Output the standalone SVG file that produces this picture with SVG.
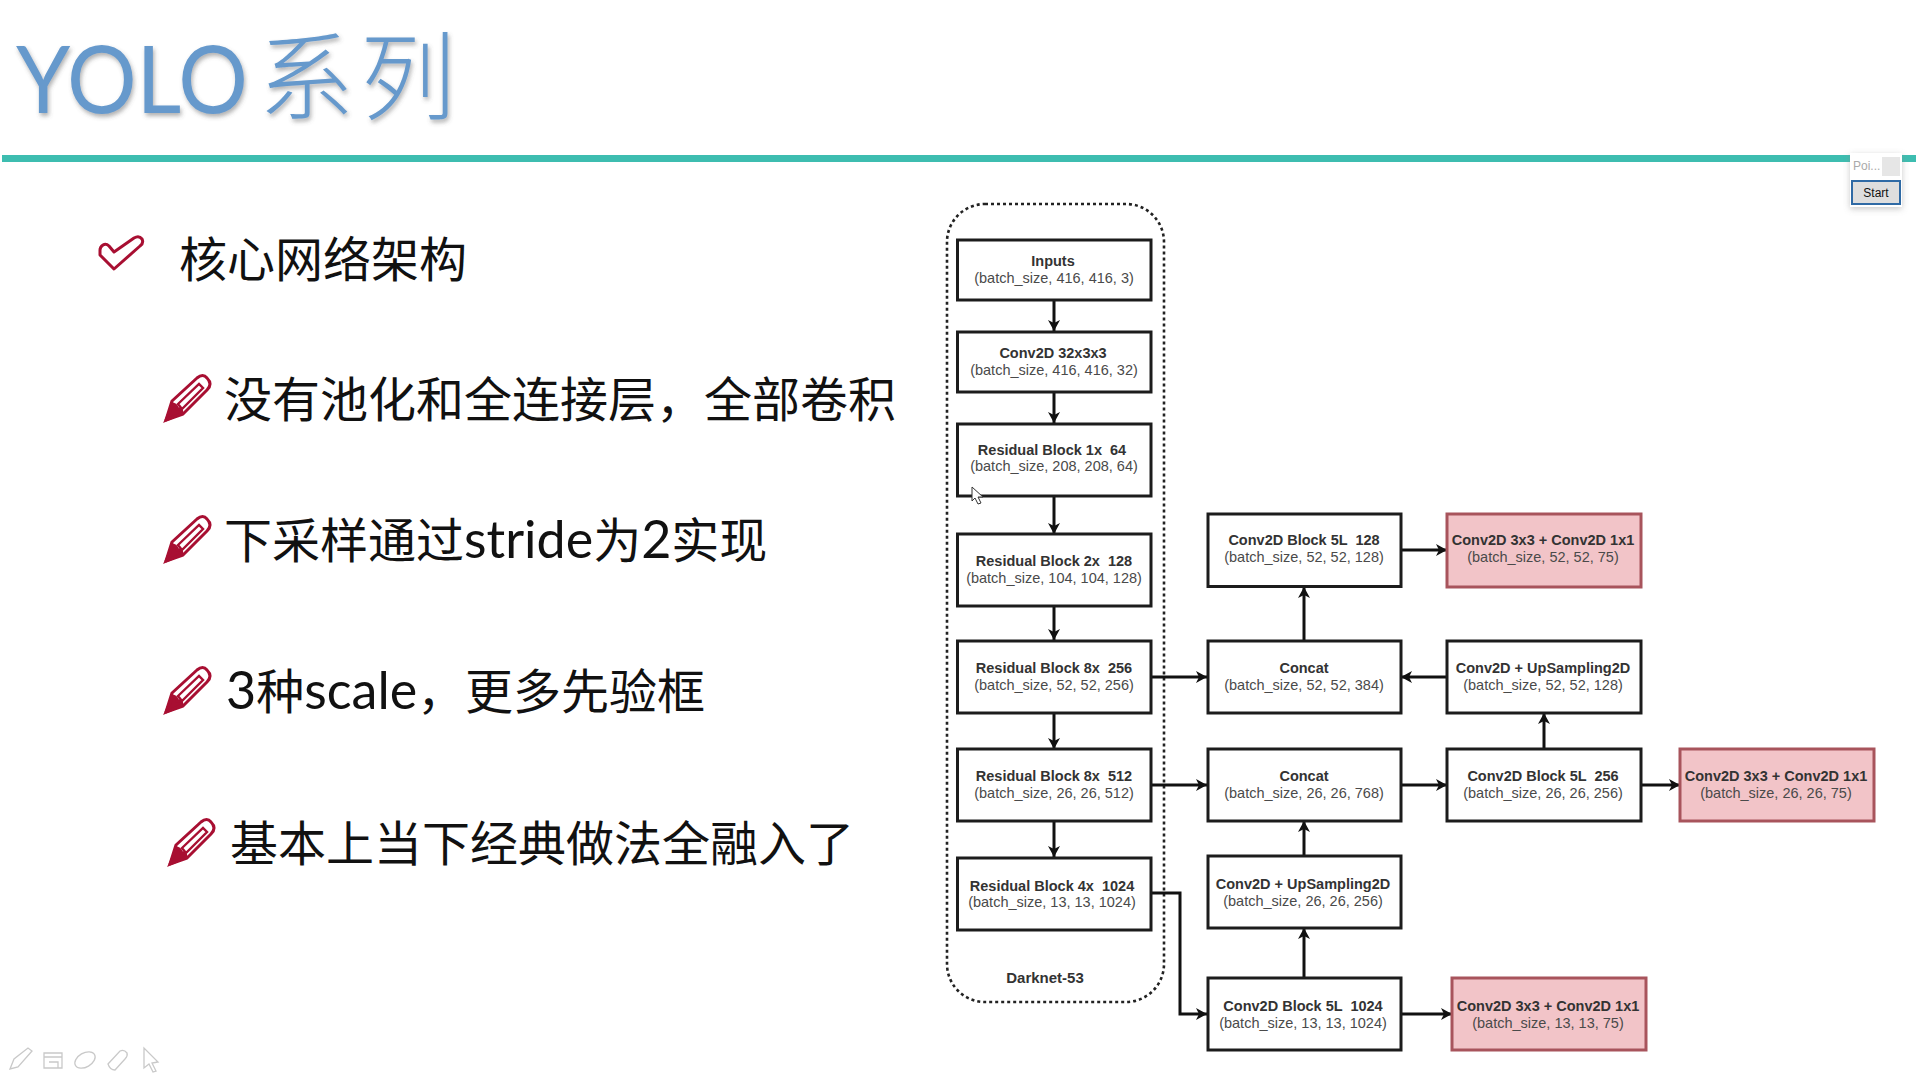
<svg xmlns="http://www.w3.org/2000/svg" xmlns:xlink="http://www.w3.org/1999/xlink" width="1916" height="1080" viewBox="0 0 1916 1080">
<style>
.t{font-family:"Lato","Noto Sans CJK SC",sans-serif;font-size:48px;fill:#111}
.w{font-size:52px}
.b{fill:#fff;stroke:#1c1c1c;stroke-width:3}
.p{fill:#f2c4c8;stroke:#a8545c;stroke-width:3}
.l{font-family:"Liberation Sans",Arial,sans-serif;font-size:14.5px;text-anchor:middle;fill:#333;font-weight:bold;white-space:pre}
.s{font-family:"Liberation Sans",Arial,sans-serif;font-size:14.5px;text-anchor:middle;fill:#4a4a4a}
.c{fill:none;stroke:#111;stroke-width:3;marker-end:url(#a)}
.g{fill:none;stroke:#c9c9c9;stroke-width:1.3}
</style>
<defs>
<marker id="a" markerUnits="userSpaceOnUse" markerWidth="12" markerHeight="14" refX="11" refY="7" orient="auto"><path d="M0 1L11 7L0 13L3 7Z" fill="#111"/></marker>
<filter id="sh" x="-10%" y="-10%" width="120%" height="130%"><feDropShadow dx="1.500" dy="3" stdDeviation="2" flood-color="#555" flood-opacity=".45"/></filter>
<filter id="ps" x="-30%" y="-30%" width="160%" height="160%"><feDropShadow dx="0" dy="2" stdDeviation="3" flood-color="#888" flood-opacity=".45"/></filter>
<g id="pen" fill="none" stroke="#a80f32" stroke-width="3">
<path d="M166 420L172 401L197 378Q203 373 207 378Q213 384 207 390L183 414Z" stroke-linejoin="round"/>
<path d="M166 420L173 404Q177 405 177 409Q182 408 182 413Z" fill="#a80f32"/>
<path d="M178 404L199 384L203 388L182 409Z" stroke-width="2.400"/>
</g>
</defs>
<rect width="1916" height="1080" fill="#fff"/>
<g id="title" filter="url(#sh)">
<text x="16" y="113" font-family="Lato,sans-serif" font-size="94" fill="#6699cc" textLength="232" lengthAdjust="spacingAndGlyphs">YOLO</text>
<text x="258" y="112" font-family="'Noto Sans CJK SC',sans-serif" font-size="96" font-weight="300" letter-spacing="6" fill="#6699cc">系列</text>
</g>
<rect id="rule" x="2" y="155" width="1914" height="7" fill="#3dbdb0"/>
<g id="bullets">
<path id="check" d="M100 250Q100 247 103 245Q106 243 109 246L114 252L134 238Q139 235 142 239Q144 243 140 246L114 269L100 255Z" fill="none" stroke="#a80f32" stroke-width="3" stroke-linejoin="round"/>
<text class="t" x="179" y="277">核心网络架构</text>
<use xlink:href="#pen" href="#pen"/>
<text class="t" x="224" y="417">没有池化和全连接层，全部卷积</text>
<use xlink:href="#pen" href="#pen" y="141"/>
<text class="t" x="224" y="558">下采样通过<tspan class="w">stride</tspan>为<tspan class="w">2</tspan>实现</text>
<use xlink:href="#pen" href="#pen" y="292"/>
<text class="t" x="226" y="709"><tspan class="w">3</tspan>种<tspan class="w">scale</tspan>，更多先验框</text>
<use xlink:href="#pen" href="#pen" x="4" y="444"/>
<text class="t" x="230" y="861">基本上当下经典做法全融入了</text>
</g>
<rect id="darknet-frame" x="947" y="204" width="217" height="798" rx="38" fill="none" stroke="#222" stroke-width="2.600" stroke-dasharray="3 3"/>
<text id="darknet-label" class="l" x="1045" y="983" style="font-size:15px">Darknet-53</text>
<g id="connectors">
<path class="c" d="M1054 300V331"/>
<path class="c" d="M1054 392V423"/>
<path class="c" d="M1054 496V534"/>
<path class="c" d="M1054 606V640"/>
<path class="c" d="M1054 714V749"/>
<path class="c" d="M1054 821V857"/>
<path class="c" d="M1151 677H1207"/>
<path class="c" d="M1151 785H1207"/>
<path class="c" d="M1151 893H1180V1014H1207"/>
<path class="c" d="M1304 978V928"/>
<path class="c" d="M1304 856V821"/>
<path class="c" d="M1304 640V587"/>
<path class="c" d="M1401 785H1447"/>
<path class="c" d="M1447 677H1401"/>
<path class="c" d="M1544 749V713"/>
<path class="c" d="M1401 550H1447"/>
<path class="c" d="M1641 785H1680"/>
<path class="c" d="M1401 1014H1452"/>
</g>
<g id="n-inputs"><rect class="b" x="957.500" y="240" width="193.500" height="60"/><text class="l" x="1053" y="266">Inputs</text><text class="s" x="1054" y="283">(batch_size, 416, 416, 3)</text></g>
<g id="n-conv32"><rect class="b" x="957.500" y="332" width="193.500" height="60"/><text class="l" x="1053" y="358">Conv2D 32x3x3</text><text class="s" x="1054" y="375">(batch_size, 416, 416, 32)</text></g>
<g id="n-res1"><rect class="b" x="957.500" y="424" width="193.500" height="72"/><text class="l" x="1052" y="455">Residual Block 1x  64</text><text class="s" x="1054" y="471">(batch_size, 208, 208, 64)</text></g>
<g id="n-res2"><rect class="b" x="957.500" y="534" width="193.500" height="72"/><text class="l" x="1054" y="566">Residual Block 2x  128</text><text class="s" x="1054" y="583">(batch_size, 104, 104, 128)</text></g>
<g id="n-res8a"><rect class="b" x="957.500" y="641" width="193.500" height="72"/><text class="l" x="1054" y="673">Residual Block 8x  256</text><text class="s" x="1054" y="690">(batch_size, 52, 52, 256)</text></g>
<g id="n-res8b"><rect class="b" x="957.500" y="749" width="193.500" height="72"/><text class="l" x="1054" y="781">Residual Block 8x  512</text><text class="s" x="1054" y="798">(batch_size, 26, 26, 512)</text></g>
<g id="n-res4"><rect class="b" x="957.500" y="858" width="193.500" height="72"/><text class="l" x="1052" y="891">Residual Block 4x  1024</text><text class="s" x="1052" y="907">(batch_size, 13, 13, 1024)</text></g>
<g id="n-conv128"><rect class="b" x="1208" y="514" width="193" height="72.500"/><text class="l" x="1304" y="545">Conv2D Block 5L  128</text><text class="s" x="1304" y="562">(batch_size, 52, 52, 128)</text></g>
<g id="n-concat384"><rect class="b" x="1208" y="641" width="193" height="72"/><text class="l" x="1304" y="673">Concat</text><text class="s" x="1304" y="690">(batch_size, 52, 52, 384)</text></g>
<g id="n-concat768"><rect class="b" x="1208" y="749" width="193" height="72"/><text class="l" x="1304" y="781">Concat</text><text class="s" x="1304" y="798">(batch_size, 26, 26, 768)</text></g>
<g id="n-up256"><rect class="b" x="1208" y="856" width="193" height="72"/><text class="l" x="1303" y="889">Conv2D + UpSampling2D</text><text class="s" x="1303" y="906">(batch_size, 26, 26, 256)</text></g>
<g id="n-conv1024"><rect class="b" x="1208" y="978" width="193" height="72"/><text class="l" x="1303" y="1011">Conv2D Block 5L  1024</text><text class="s" x="1303" y="1028">(batch_size, 13, 13, 1024)</text></g>
<g id="n-out52"><rect class="p" x="1447" y="514" width="194" height="73"/><text class="l" x="1543" y="545">Conv2D 3x3 + Conv2D 1x1</text><text class="s" x="1543" y="562">(batch_size, 52, 52, 75)</text></g>
<g id="n-up128"><rect class="b" x="1447" y="641" width="194" height="72"/><text class="l" x="1543" y="673">Conv2D + UpSampling2D</text><text class="s" x="1543" y="690">(batch_size, 52, 52, 128)</text></g>
<g id="n-conv256"><rect class="b" x="1447" y="749" width="194" height="72"/><text class="l" x="1543" y="781">Conv2D Block 5L  256</text><text class="s" x="1543" y="798">(batch_size, 26, 26, 256)</text></g>
<g id="n-out26"><rect class="p" x="1680" y="749" width="194" height="72"/><text class="l" x="1776" y="781">Conv2D 3x3 + Conv2D 1x1</text><text class="s" x="1776" y="798">(batch_size, 26, 26, 75)</text></g>
<g id="n-out13"><rect class="p" x="1452" y="978" width="194" height="72"/><text class="l" x="1548" y="1011">Conv2D 3x3 + Conv2D 1x1</text><text class="s" x="1548" y="1028">(batch_size, 13, 13, 75)</text></g>
<g id="cursor"><path d="M972 487V501L975 498L978 504L981 503L978 497L983 497Z" fill="#fff" stroke="#333" stroke-width="1"/></g>
<g id="popup">
<rect x="1850" y="153" width="52" height="54" fill="#fff" filter="url(#ps)"/>
<text x="1853" y="170" font-family="'Liberation Sans',sans-serif" font-size="12" fill="#aaa">Poi...</text>
<rect x="1882" y="157" width="18" height="19" fill="#e6e6e6"/>
<rect x="1852" y="181" width="48" height="23" fill="#dedede" stroke="#2f6aa5" stroke-width="2"/>
<text x="1876" y="197" font-family="'Liberation Sans',sans-serif" font-size="12" text-anchor="middle" fill="#111">Start</text>
</g>
<g id="toolbar">
<path class="g" d="M10 1069L14 1059L28 1048L32 1051L18 1067Z"/>
<path class="g" d="M44 1053H62V1068H44ZM44 1057H62M49 1062H58V1068"/>
<ellipse class="g" cx="85" cy="1060" rx="11" ry="7" transform="rotate(-30 85 1060)"/>
<path class="g" d="M108 1064L120 1051Q124 1049 127 1053Q128 1056 125 1059L115 1070Q110 1070 108 1064Z"/>
<path class="g" d="M144 1048V1068L149 1064L153 1072L156 1071L152 1063L158 1062Z"/>
</g>
</svg>
